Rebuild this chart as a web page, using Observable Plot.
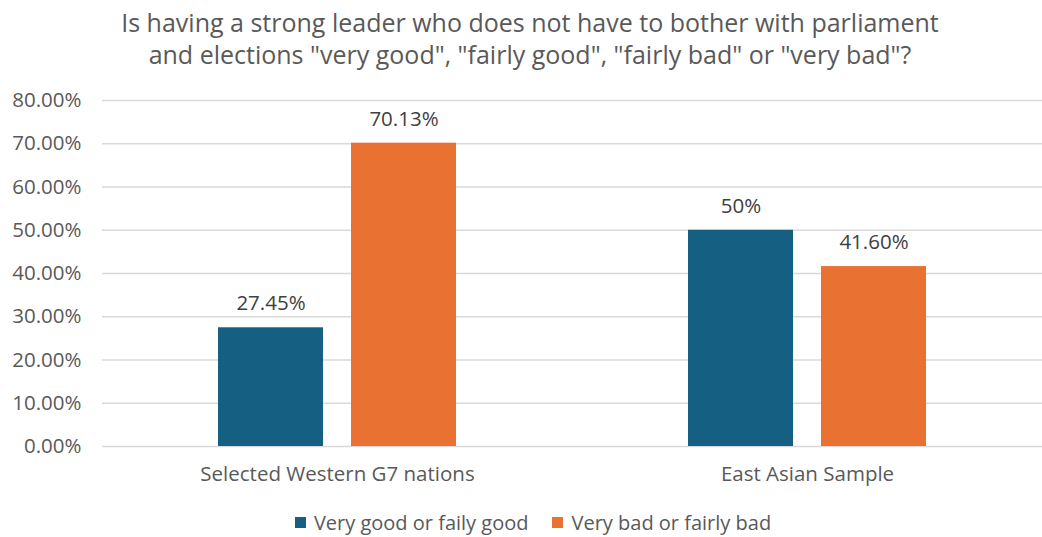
<!DOCTYPE html>
<html><head><meta charset="utf-8">
<script src="https://cdn.jsdelivr.net/npm/d3@7"></script>
<script src="https://cdn.jsdelivr.net/npm/@observablehq/plot@0.6"></script>
<style>
html,body{margin:0;padding:0;background:#fff}
body{width:1042px;height:537px;overflow:hidden;font-family:"Open Sans",sans-serif}
#title{height:78px;box-sizing:border-box;padding-top:6px;padding-left:18px;text-align:center;color:#595959;font-size:25px;line-height:32px;white-space:nowrap}
#chart svg{display:block}
#legend{height:39px;box-sizing:border-box;padding-top:10px;display:flex;justify-content:center;align-items:center;padding-left:24px;color:#595959;font-size:20px}
.item{display:flex;align-items:center;margin:0 12px}
.sw{width:11px;height:11px;margin-right:8px}
</style></head><body>
<div id="title"></div>
<div id="chart"></div>
<div id="legend"></div>
<script>
const titleLines = ['Is having a strong leader who does not have to bother with parliament', 'and elections "very good", "fairly good", "fairly bad" or "very bad"?'];
const categories = ["Selected Western G7 nations", "East Asian Sample"];
const series = ["Very good or faily good", "Very bad or fairly bad"];
const goodValues = [27.45, 50];
const badValues = [70.13, 41.60];
const goodLabels = ["27.45%", "50%"];
const badLabels = ["70.13%", "41.60%"];
const yTicks = [0, 10, 20, 30, 40, 50, 60, 70, 80];
const colors = ["#156082", "#E97132"];

document.getElementById("title").innerHTML = titleLines.join("<br>");

const data = [];
categories.forEach((c, i) => {
  data.push({category: c, series: series[0], value: goodValues[i], label: goodLabels[i]});
  data.push({category: c, series: series[1], value: badValues[i], label: badLabels[i]});
});

const chart = Plot.plot({
  width: 1042, height: 420,
  marginLeft: 101, marginRight: 0, marginTop: 22, marginBottom: 52,
  style: {fontFamily: '"Open Sans", sans-serif', fontSize: "20.5px", color: "#595959", background: "#fff"},
  fx: {domain: categories, padding: 0, label: null},
  x: {domain: series, paddingInner: 0.209, paddingOuter: 0.86, axis: null},
  y: {domain: [0, 80], label: null},
  color: {domain: series, range: colors},
  marks: [
    Plot.gridY(yTicks, {stroke: "#d9d9d9", strokeOpacity: 1, strokeWidth: 1.3}),
    Plot.axisY(yTicks, {tickSize: 0, tickPadding: 21, tickFormat: d => d.toFixed(2) + "%", label: null, fill: "#595959", fontSize: 20.5}),
    Plot.axisFx({anchor: "bottom", tickSize: 0, tickPadding: 20, label: null, fill: "#595959", fontSize: 20.5}),
    Plot.barY(data, {fx: "category", x: "series", y: "value", fill: "series"}),
    Plot.text(data, {fx: "category", x: "series", y: "value", text: "label", dy: -24, fill: "#404040", fontSize: 20.5})
  ]
});
document.getElementById("chart").appendChild(chart);

const legend = document.getElementById("legend");
series.forEach((s, i) => {
  const it = document.createElement("div");
  it.className = "item";
  it.innerHTML = `<span class="sw" style="background:${colors[i]}"></span><span>${s}</span>`;
  legend.appendChild(it);
});
</script>
</body></html>
